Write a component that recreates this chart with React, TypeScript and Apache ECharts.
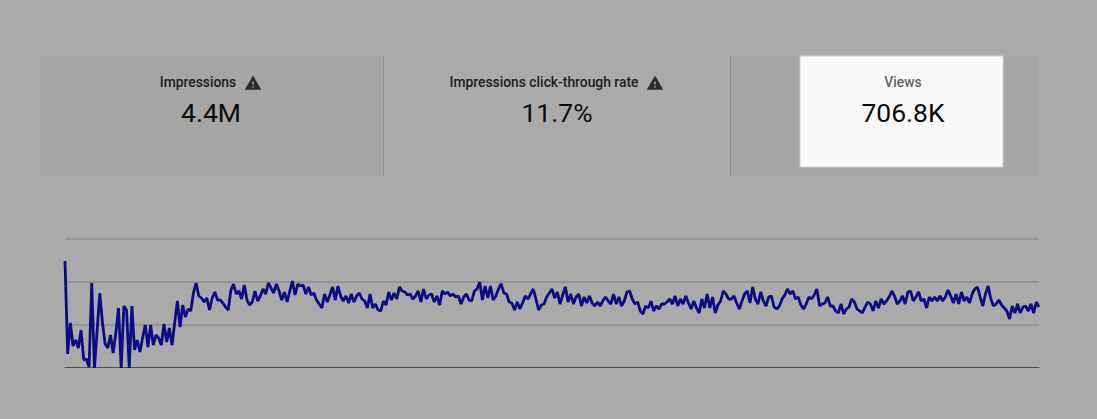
import React, { useEffect, useRef } from "react";
import * as echarts from "echarts";

const segmentA = [107,14,45,22,28,20,38,8,9,1,85,0,37,75,45,24,20,33,15,35,60,0,62,58,0,62,18,28,16,30,43,21,43,23,33,30,23,44,26,40,23,45,67,41,63,51,59,57,75,85,72,70,66,70,58,70,76,68,68,65,61,58];
const segmentB = [78,84,74,77,69,83,68,63,66,77,67,72,79,74,85,80,75,84,77,68,76,66,77,87,73,84,82,83,74,81,73,75,68,64,60,74,66,73,81,68,82,72,67,72,65,74,66,72,75,69,67,60,74,60,64,58,57,67,63,76,68,75,69,81,77,76,73,74,69,72,77,66,79,69,73,74,66,72,63,77,74,76,72,74,71,72,64,71,74,68,67,77,79,86,68,82,70,82,68,72,79];
const segmentC = [84,75,74,66,65,58,66,59,65,72,69,74,79,69,58,63,64,71,75,79,70,76,64,73,81,66,74,64,71,74,62,71,65,72,65,62,66,62,67,71,67,64,74,64,71,62,67,76,77,69,64,66,57,54,62,60,67,57,62,59,64,64,66,69,64,72,62,69,64,72,65,59,67,60,55,69,60,74,60,71,55,63,67,77,74,69,69,72,65,59,67,74,77,65,81,69,64,76,67,62,71];
const segmentD = [72,61,59,62,69,73,79,74,77,69,71,63,59,64,71,69,73,79,62,64,65,71,62,62,57,55,64,54,59,61,69,66,59,57,55,61,66,64,57,67,60,69,64,67,71,77,72,64,67,72,64,76,77,67,71,76,67,69,60,71,67,71,67,72,67,71,78,72,65,74,64,76,67,71,65,74,79,81,71,62,74,82,69,62,64,68,63,60,57,49,62,55,64,55,61,62,57,64,55,66,61];
const views = [...segmentA, ...segmentB, ...segmentC, ...segmentD];
const categories = views.map((_, i) => String(i));

const metricLabels = ["Impressions", "Impressions click-through rate", "Views"];
const metricValues = ["4.4M", "11.7%", "706.8K"];

const FONT = "Roboto";
const WARNING = "M1 21h22L12 2 1 21zm12-3h-2v-2h2v2zm0-4h-2v-4h2v4z";

export default function App() {
  const ref = useRef<HTMLDivElement>(null);
  useEffect(() => {
    document.body.style.margin = "0";
    document.body.style.background = "#aaaaaa";
    echarts.graphic.registerShape("warningIcon", echarts.graphic.extendPath(WARNING as any, {}) as any);
    const chart = echarts.init(ref.current!, undefined, { renderer: "svg" });
    const icon = (x: number) => ({
      type: "warningIcon", x, y: 74, scaleX: 0.75, scaleY: 0.75, style: { fill: "#2b2b2b" }, z: 5,
    });
    const label = (i: number, x: number, color: string, weight: number) => ({
      type: "text", x, y: 82, z: 5,
      style: { text: metricLabels[i], fill: color, font: `${weight} 13.85px ${FONT}`, textAlign: "center", textVerticalAlign: "middle" },
    });
    const value = (i: number, x: number) => ({
      type: "text", x, y: 112, z: 5,
      style: { text: metricValues[i], fill: "#0a0a0a", font: `400 26.5px ${FONT}`, textAlign: "center", textVerticalAlign: "middle" },
    });
    chart.setOption({
      animation: false,
      backgroundColor: "#aaaaaa",
      grid: { left: 65, right: 58, top: 239, height: 129, containLabel: false },
      xAxis: {
        type: "category", data: categories, boundaryGap: false, offset: -1,
        axisLine: { show: true, lineStyle: { color: "#4f4f4f", width: 1 } },
        axisTick: { show: false }, axisLabel: { show: false }, splitLine: { show: false },
      },
      yAxis: {
        type: "value", min: 0, max: 129, interval: 43,
        axisLine: { show: false }, axisTick: { show: false }, axisLabel: { show: false },
        splitLine: { show: true, showMinLine: false, lineStyle: { color: "#959595", width: 2 } },
      },
      series: [{
        type: "line", data: views, showSymbol: false, smooth: false, z: 3,
        lineStyle: { color: "#0b0b85", width: 2.8 },
      }],
      graphic: [
        { type: "rect", shape: { x: 40, y: 56, width: 343, height: 120 }, style: { fill: "#a5a5a5" }, z: 1 },
        { type: "rect", shape: { x: 383, y: 56, width: 1, height: 120 }, style: { fill: "#8f8f8f" }, z: 1 },
        { type: "rect", shape: { x: 730, y: 56, width: 1, height: 120 }, style: { fill: "#8f8f8f" }, z: 1 },
        { type: "rect", shape: { x: 731, y: 56, width: 308, height: 120 }, style: { fill: "#a5a5a5" }, z: 1 },
        { type: "rect", shape: { x: 800, y: 56, width: 203, height: 111 }, style: { fill: "#f9f9f9", stroke: "#cfcfcf", lineWidth: 1 }, z: 2 },
        label(0, 198, "#1f1f1f", 500),
        label(1, 544, "#1f1f1f", 500),
        label(2, 903, "#5f6368", 500),
        value(0, 211),
        value(1, 557),
        value(2, 903),
        icon(244),
        icon(646),
      ],
    });
    return () => chart.dispose();
  }, []);
  return <div ref={ref} style={{ position: "fixed", left: 0, top: 0, width: 1097, height: 419 }} />;
}
